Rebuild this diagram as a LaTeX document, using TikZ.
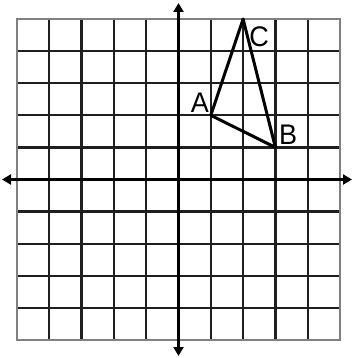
\documentclass[tikz,border=0pt]{standalone}
\usepackage{fontspec}
\setmainfont{Liberation Sans}
\usetikzlibrary{arrows.meta}
\begin{document}
\begin{tikzpicture}[x=1pt,y=-1pt,
  gridline/.style={line width=2.3pt,draw=black!88},
  border/.style={line width=2.2pt,draw=black!50},
  axis/.style={line width=3.6pt,draw=black,-{Triangle[length=9pt,width=10pt]}},
  tri/.style={line width=3pt,draw=black,line join=round},
  lbl/.style={font=\fontsize{27}{27}\selectfont,inner sep=0pt,yscale=1.05}]
\useasboundingbox (0,0) rectangle (353,358);
% grid
\foreach \i in {1,...,9}{
  \draw[gridline] ({17+\i*32.3},19) -- ({17+\i*32.3},340);
  \draw[gridline] (17,{19+\i*32.1}) -- (340,{19+\i*32.1});
}
\draw[border] (17,19) rectangle (340,340);
% axes
\coordinate (O) at (178.5,179.5);
\coordinate (xl) at (2,179.5);
\coordinate (xr) at (352,179.5);
\coordinate (yt) at (178.5,3);
\coordinate (yb) at (178.5,356);
\draw[axis] (O) -- (xl);
\draw[axis] (O) -- (xr);
\draw[axis] (O) -- (yt);
\draw[axis] (O) -- (yb);
% triangle
\coordinate (A) at (210.8,115.3);
\coordinate (B) at (275.4,147.4);
\coordinate (C) at (243.1,19);
\draw[tri] (A) -- (B) -- (C) -- cycle;
\node[lbl] (la) at (200,103) {A};
\node[lbl] (lb) at (288,135) {B};
\node[lbl] (lc) at (259,37) {C};
\end{tikzpicture}
\end{document}
